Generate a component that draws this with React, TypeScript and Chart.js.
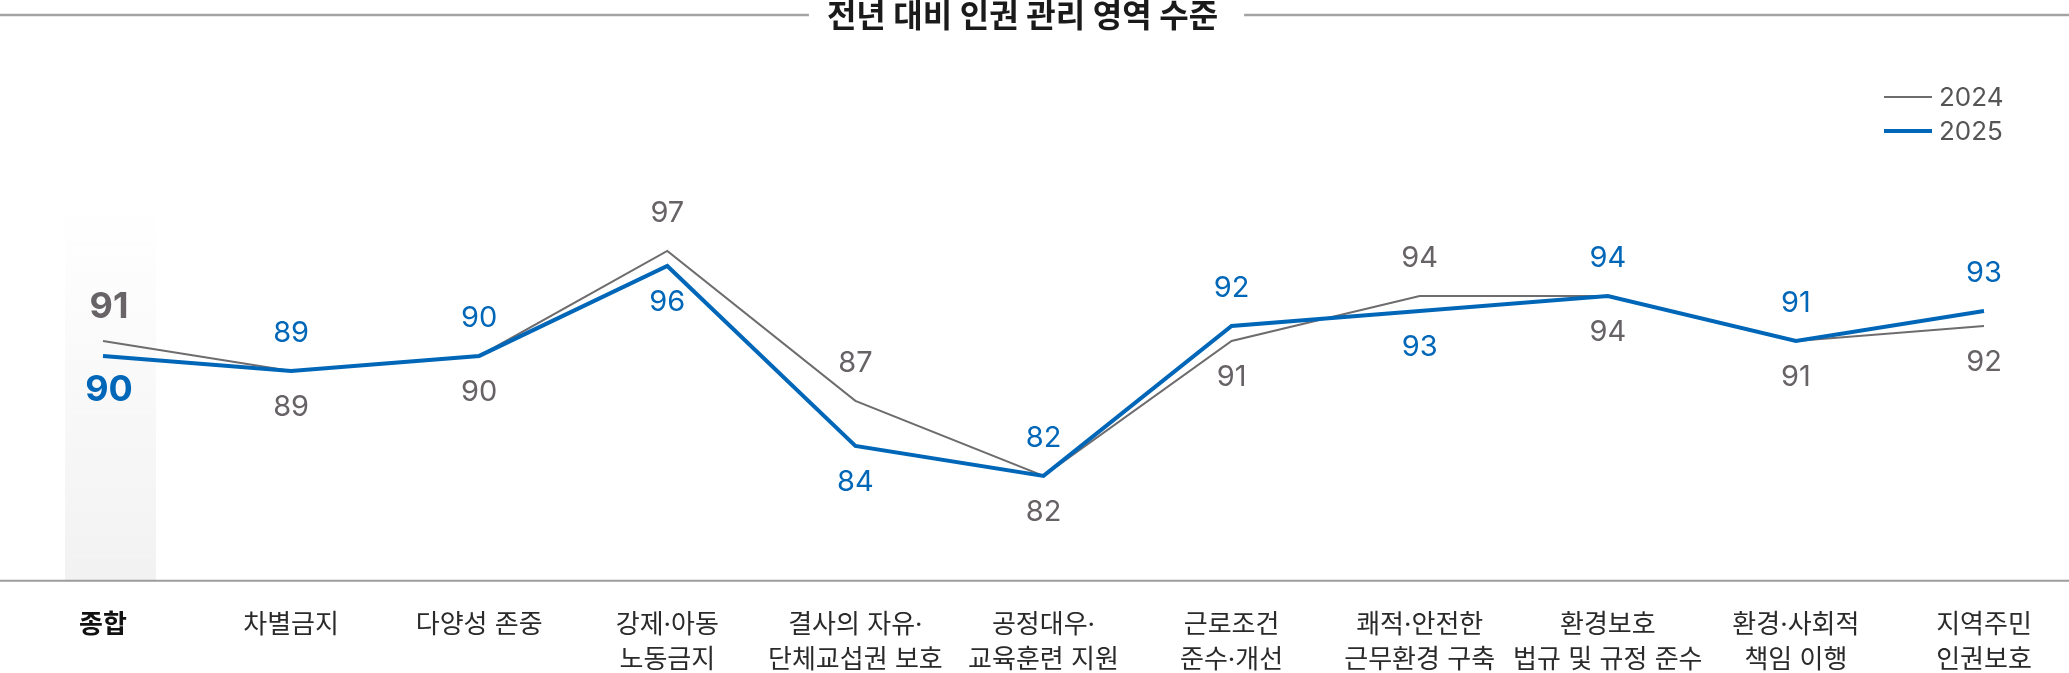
import React, { useEffect, useRef } from 'react';
import { Chart, registerables } from 'chart.js';

Chart.register(...registerables);

const categories: string[][] = [
  ['종합'],
  ['차별금지'],
  ['다양성 존중'],
  ['강제·아동', '노동금지'],
  ['결사의 자유·', '단체교섭권 보호'],
  ['공정대우·', '교육훈련 지원'],
  ['근로조건', '준수·개선'],
  ['쾌적·안전한', '근무환경 구축'],
  ['환경보호', '법규 및 규정 준수'],
  ['환경·사회적', '책임 이행'],
  ['지역주민', '인권보호'],
];

const values2024 = [91, 89, 90, 97, 87, 82, 91, 94, 94, 91, 92];
const values2025 = [90, 89, 90, 96, 84, 82, 92, 93, 94, 91, 93];

const seriesNames = ['2024', '2025'];
const titleText = '전년 대비 인권 관리 영역 수준';

const GRAY = '#6f6c6f';
const BLUE = '#0067b8';
const NUM_FONT = 'Inter, "Noto Sans CJK KR", sans-serif';
const KR_FONT = 'Inter, "Noto Sans CJK KR", "Noto Sans", sans-serif';

// title with side rules, legend, highlight band, axis line and value labels
const decorPlugin = {
  id: 'decor',
  beforeDatasetsDraw(chart: any) {
    const { ctx, chartArea, scales } = chart;
    const x0 = scales.x.getPixelForValue(0);
    const g = ctx.createLinearGradient(0, chartArea.top, 0, chartArea.bottom);
    g.addColorStop(0, 'rgba(242,242,242,0)');
    g.addColorStop(1, 'rgba(242,242,242,1)');
    ctx.save();
    ctx.fillStyle = g;
    ctx.fillRect(x0 - 38, chartArea.top, 91, chartArea.bottom - chartArea.top);
    ctx.restore();
  },
  afterDraw(chart: any) {
    const { ctx, chartArea, width } = chart;
    ctx.save();

    // axis line across the whole width
    ctx.strokeStyle = '#9c9c9c';
    ctx.lineWidth = 2;
    ctx.beginPath();
    ctx.moveTo(0, chartArea.bottom);
    ctx.lineTo(width, chartArea.bottom);
    ctx.stroke();

    // title
    const cx = width / 2 - 12;
    ctx.font = `bold 32px ${KR_FONT}`;
    ctx.fillStyle = '#1a1a1a';
    ctx.textAlign = 'center';
    ctx.textBaseline = 'middle';
    ctx.fillText(titleText, cx, 17);
    const tw = ctx.measureText(titleText).width;
    ctx.strokeStyle = '#a3a3a3';
    ctx.lineWidth = 2.5;
    ctx.beginPath();
    ctx.moveTo(0, 15);
    ctx.lineTo(cx - tw / 2 - 18, 15);
    ctx.moveTo(cx + tw / 2 + 26, 15);
    ctx.lineTo(width, 15);
    ctx.stroke();

    // legend
    const lx = 1884;
    const legendRows = [
      { label: seriesNames[0], color: GRAY, w: 2, y: 97 },
      { label: seriesNames[1], color: BLUE, w: 4, y: 131 },
    ];
    ctx.font = `26px ${NUM_FONT}`;
    ctx.textAlign = 'left';
    legendRows.forEach((r) => {
      ctx.strokeStyle = r.color;
      ctx.lineWidth = r.w;
      ctx.beginPath();
      ctx.moveTo(lx, r.y);
      ctx.lineTo(lx + 48, r.y);
      ctx.stroke();
      ctx.fillStyle = '#555555';
      ctx.fillText(r.label, lx + 55, r.y + 1);
    });

    // value labels: higher value above, lower below
    const m0 = chart.getDatasetMeta(0).data;
    const m1 = chart.getDatasetMeta(1).data;
    ctx.textAlign = 'center';
    for (let i = 0; i < categories.length; i++) {
      const a = values2024[i];
      const b = values2025[i];
      const pa = m0[i];
      const pb = m1[i];
      const blueUp = b >= a;
      const upY = Math.min(pa.y, pb.y) - (i === 0 ? 34 : 38);
      const downY = Math.max(pa.y, pb.y) + (i === 0 ? 34 : 36);
      ctx.font = i === 0 ? `bold 36px ${NUM_FONT}` : `29px ${NUM_FONT}`;
      ctx.fillStyle = i === 0 ? '#676367' : '#666266';
      ctx.fillText(String(a), pa.x + (i === 0 ? 6 : 0), blueUp ? downY : upY);
      ctx.fillStyle = BLUE;
      ctx.fillText(String(b), pb.x + (i === 0 ? 6 : 0), blueUp ? upY : downY);
    }
    ctx.restore();
  },
};

const App: React.FC = () => {
  const chartRef = useRef<HTMLCanvasElement>(null);
  const chartInstance = useRef<Chart | null>(null);

  useEffect(() => {
    document.body.style.margin = '0';
    if (!chartRef.current) return;
    if (chartInstance.current) chartInstance.current.destroy();
    const ctx = chartRef.current.getContext('2d');
    if (!ctx) return;

    chartInstance.current = new Chart(ctx, {
      type: 'line',
      data: {
        labels: categories,
        datasets: [
          {
            label: seriesNames[0],
            data: values2024,
            borderColor: GRAY,
            borderWidth: 2,
            pointRadius: 0,
            tension: 0,
            order: 2,
          },
          {
            label: seriesNames[1],
            data: values2025,
            borderColor: BLUE,
            borderWidth: 4,
            pointRadius: 0,
            tension: 0,
            order: 1,
          },
        ],
      },
      options: {
        responsive: true,
        maintainAspectRatio: false,
        animation: false,
        // ticks padding is counted twice by the scale, hence the negative bottom
        layout: { padding: { left: 103, right: 85, top: 206, bottom: -32 } },
        plugins: {
          legend: { display: false },
          tooltip: { enabled: false },
        },
        scales: {
          x: {
            grid: { display: false, drawTicks: false },
            border: { display: false },
            ticks: {
              padding: 27,
              autoSkip: false,
              maxRotation: 0,
              color: (c: any) => (c.index === 0 ? '#111111' : '#2a2a2a'),
              font: (c: any) => ({
                family: KR_FONT,
                size: 26,
                lineHeight: 1.35,
                weight: c.index === 0 ? 'bold' : 'normal',
              }),
            },
          },
          y: {
            display: false,
            min: 75,
            max: 100,
          },
        },
      },
      plugins: [decorPlugin],
    });

    return () => {
      if (chartInstance.current) {
        chartInstance.current.destroy();
        chartInstance.current = null;
      }
    };
  }, []);

  return (
    <div style={{ width: 2069, height: 673, position: 'relative', background: '#fff' }}>
      <canvas ref={chartRef}></canvas>
    </div>
  );
};

export default App;
